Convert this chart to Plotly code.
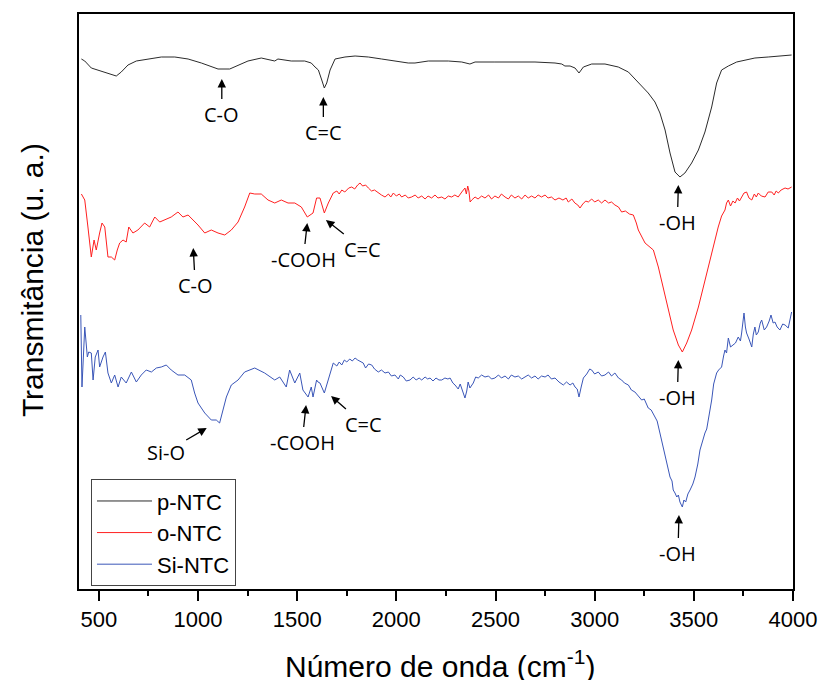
import plotly.graph_objects as go

# ---------------- data (wavenumber in cm-1, transmittance in arbitrary units, curves offset) -------------
p_ntc_x = [412, 429, 462, 512, 538, 588, 613, 647, 689, 748, 815, 883, 950, 1017, 1067, 1101, 1160,
           1202, 1252, 1319, 1387, 1403, 1470, 1538, 1571, 1590, 1607, 1624, 1637, 1649, 1666, 1691,
           1741, 1792, 1859, 1926, 1993, 2060, 2094, 2161, 2262, 2330, 2371, 2397, 2497, 2598, 2699,
           2800, 2834, 2850, 2876, 2901, 2921, 2943, 2985, 3052, 3119, 3170, 3220, 3270, 3304, 3329,
           3355, 3380, 3405, 3430, 3455, 3489, 3523, 3556, 3590, 3615, 3640, 3674, 3716, 3758, 3808,
           3875, 3943, 3993]
p_ntc_y = [530, 528, 521, 518, 516, 513, 517, 524, 528, 530, 532, 532, 530, 526, 522, 520, 520,
           524, 528, 531, 528, 530, 528, 528, 526, 522, 519, 509, 501, 506, 519, 530,
           532, 533, 532, 530, 528, 526, 526, 528, 528, 527, 525, 527, 527, 527, 527,
           526, 525, 523, 523, 521, 516, 522, 525, 525, 522, 517, 507, 496, 487, 476,
           459, 436, 417, 412, 416, 426, 439, 457, 482, 506, 519, 523, 527, 529, 531,
           532, 533, 534]

o_ntc_x = [412, 429, 445, 462, 476, 487, 504, 516, 530, 546, 563, 580, 593, 605, 622, 638, 651, 672,
           697, 731, 756, 782, 807, 832, 865, 899, 924, 950, 975, 1000, 1034, 1067, 1101, 1135, 1168,
           1202, 1235, 1261, 1286, 1319, 1353, 1387, 1420, 1454, 1488, 1521, 1551, 1580, 1598, 1615,
           1637, 1657, 1682, 1700, 1712, 1725, 1740, 1760, 1775, 1790, 1805, 1817, 1830, 1845, 1859,
           1875, 1890, 1909, 1925, 1943, 1960, 1972, 1985, 2000, 2015, 2027, 2045, 2060, 2077, 2095,
           2110, 2128, 2145, 2160, 2178, 2195, 2210, 2229, 2245, 2262, 2279, 2295, 2312, 2330, 2346,
           2353, 2360, 2366, 2372, 2380, 2397, 2412, 2430, 2447, 2465, 2480, 2497, 2515, 2530, 2548,
           2565, 2580, 2598, 2615, 2632, 2649, 2665, 2682, 2699, 2715, 2732, 2750, 2765, 2782, 2800,
           2820, 2840, 2856, 2867, 2885, 2900, 2915, 2926, 2940, 2955, 2968, 2985, 3000, 3018, 3035,
           3052, 3070, 3085, 3102, 3120, 3136, 3155, 3175, 3195, 3210, 3220, 3254, 3296, 3321, 3346,
           3371, 3396, 3422, 3442, 3464, 3489, 3523, 3556, 3590, 3623, 3640, 3657, 3665, 3674, 3685,
           3697, 3708, 3720, 3730, 3741, 3753, 3766, 3778, 3792, 3805, 3815, 3825, 3840, 3859, 3875,
           3893, 3905, 3915, 3926, 3940, 3960, 3975, 3993]
o_ntc_y = [395, 389, 362, 332, 349, 339, 356, 366, 362, 332, 332, 329, 339, 346, 349, 347, 362, 356,
           359, 366, 362, 372, 367, 369, 372, 377, 372, 374, 369, 364, 356, 359, 356, 354, 359,
           367, 382, 396, 395, 395, 389, 386, 389, 386, 386, 382, 372, 376, 391, 391,
           376, 386, 396, 398, 395, 399, 397, 401, 402, 400, 404, 406, 403, 404, 401,
           398, 399, 396, 394, 392, 395, 392, 396, 393, 395, 392, 394, 391, 392, 394,
           391, 393, 390, 393, 391, 394, 391, 392, 390, 393, 392, 394, 392, 397, 401,
           395, 403, 398, 387, 389, 392, 390, 393, 391, 394, 390, 393, 391, 395, 392,
           390, 394, 391, 393, 390, 394, 391, 393, 391, 394, 392, 394, 391, 392, 389,
           391, 389, 391, 387, 390, 386, 384, 381, 385, 388, 387, 390, 387, 389, 386,
           389, 386, 387, 384, 382, 377, 378, 375, 374, 366, 359, 346, 339, 322, 302,
           282, 259, 244, 237, 246, 259, 282, 309, 336, 362, 373, 379, 386, 389, 383,
           388, 386, 391, 388, 392, 396, 397, 391, 389, 395, 392, 396, 393, 392, 397,
           397, 394, 398, 396, 399, 401, 400, 402]

si_ntc_x = [409, 415, 429, 442, 449, 462, 471, 482, 496, 504, 521, 533, 546, 563, 580, 597, 613, 638,
            664, 689, 714, 739, 765, 790, 815, 840, 865, 899, 933, 966, 983, 1000, 1034, 1067, 1092,
            1109, 1126, 1143, 1168, 1202, 1235, 1286, 1336, 1387, 1412, 1445, 1462, 1488, 1513, 1529,
            1555, 1571, 1580, 1598, 1605, 1615, 1637, 1657, 1682, 1700, 1712, 1725, 1738, 1750, 1765,
            1778, 1792, 1805, 1820, 1833, 1845, 1860, 1876, 1890, 1909, 1925, 1943, 1960, 1975, 1993,
            2010, 2020, 2035, 2050, 2069, 2085, 2100, 2115, 2128, 2145, 2158, 2170, 2185, 2200, 2215,
            2229, 2245, 2260, 2271, 2285, 2296, 2312, 2322, 2330, 2340, 2346, 2355, 2362, 2371, 2380,
            2388, 2400, 2413, 2430, 2447, 2465, 2480, 2497, 2515, 2530, 2548, 2565, 2580, 2598, 2615,
            2632, 2649, 2665, 2682, 2699, 2715, 2732, 2750, 2765, 2782, 2800, 2820, 2842, 2858, 2876,
            2890, 2901, 2912, 2921, 2932, 2943, 2960, 2975, 2985, 3000, 3018, 3035, 3052, 3070, 3085,
            3102, 3120, 3136, 3150, 3170, 3185, 3203, 3220, 3237, 3250, 3270, 3285, 3304, 3315, 3329,
            3346, 3363, 3380, 3390, 3396, 3405, 3414, 3422, 3430, 3442, 3450, 3459, 3470, 3481, 3495,
            3506, 3520, 3531, 3545, 3556, 3565, 3573, 3590, 3600, 3615, 3625, 3640, 3650, 3657, 3665,
            3674, 3685, 3699, 3710, 3724, 3735, 3741, 3747, 3753, 3760, 3766, 3778, 3792, 3800, 3808,
            3815, 3825, 3835, 3842, 3855, 3867, 3880, 3889, 3900, 3909, 3920, 3934, 3948, 3960, 3976,
            3985, 3993]
si_ntc_y = [274, 202, 262, 232, 237, 236, 209, 232, 239, 222, 232, 237, 216, 206, 214, 202, 212, 206,
            217, 207, 214, 219, 217, 221, 222, 224, 219, 214, 214, 209, 196, 186, 176, 169, 169,
            166, 179, 192, 204, 209, 217, 221, 216, 209, 212, 202, 219, 206, 216, 199,
            192, 202, 192, 209, 207, 206, 196, 209, 226, 223, 227, 224, 229, 227, 230,
            228, 231, 229, 227, 226, 221, 225, 224, 220, 217, 219, 216, 217, 213, 214,
            210, 214, 212, 208, 209, 212, 209, 211, 209, 212, 210, 211, 208, 211, 209,
            209, 211, 210, 211, 206, 204, 200, 205, 201, 196, 191, 198, 207, 201, 204,
            206, 212, 211, 214, 212, 213, 210, 211, 214, 211, 213, 210, 214, 212, 213,
            210, 212, 214, 211, 213, 210, 213, 212, 214, 210, 211, 207, 204, 207, 204,
            206, 202, 200, 192, 202, 211, 215, 220, 219, 215, 217, 213, 214, 217, 213,
            216, 211, 209, 206, 204, 199, 197, 193, 189, 190, 181, 179, 172, 168, 156,
            142, 126, 112, 108, 99, 96, 92, 94, 87, 82, 89, 87, 95, 99, 105,
            112, 125, 139, 150, 156, 160, 169, 189, 205, 216, 219, 222, 233, 239, 236,
            251, 242, 244, 246, 252, 248, 256, 266, 276, 262, 256, 250, 242, 255, 262,
            254, 257, 266, 269, 259, 262, 268, 274, 266, 267, 262, 259, 265, 264, 261,
            268, 277]

series_names = ["p-NTC", "o-NTC", "Si-NTC"]
series_colors = ["#2b2b2b", "#ff2020", "#3a56b8"]

# band labels: (text, wavenumber, transmittance at arrow tip, label offset x px, label offset y px)
band_labels = [
    ("C-O", 1120, 510, 0, 35),
    ("C=C", 1632, 492, 0, 35),
    ("-OH", 3422, 404, -1, 37),
    ("C-O", 976, 341, 2, 37),
    ("-COOH", 1551, 366, -4, 36),
    ("C=C", 1645, 369, 37, 29),
    ("-OH", 3422, 229, -1, 37),
    ("Si-O", 1044, 161, -41, 24),
    ("-COOH", 1545, 184, -4, 37),
    ("C=C", 1671, 193, 32, 28),
    ("-OH", 3425, 74, -1, 38),
]

x_ticks = [500, 1000, 1500, 2000, 2500, 3000, 3500, 4000]

# ---------------- figure -------------
fig = go.Figure()
for name, xs, ys, col in zip(series_names, [p_ntc_x, o_ntc_x, si_ntc_x],
                             [p_ntc_y, o_ntc_y, si_ntc_y], series_colors):
    fig.add_trace(go.Scatter(x=xs, y=ys, mode="lines", name=name,
                             line=dict(color=col, width=1)))

annos = []
for text, wx, wy, ax, ay in band_labels:
    annos.append(dict(x=wx, y=wy, xref="x", yref="y", text=text, showarrow=True,
                      ax=ax, ay=ay, arrowhead=2, arrowsize=1.3, arrowwidth=1.3,
                      arrowcolor="black", standoff=0,
                      font=dict(family="Open Sans", size=20, color="black")))

annos.append(dict(x=-0.066, y=0.537, xref="paper", yref="paper", text="Transmitância (u. a.)",
                  textangle=-90, showarrow=False, xanchor="center", yanchor="middle",
                  font=dict(family="Arial, Liberation Sans", size=30, color="black")))
annos.append(dict(x=0.505, y=-0.1305, xref="paper", yref="paper",
                  text="Número de onda (cm<sup>-1</sup>)", height=32, valign="middle",
                  showarrow=False, xanchor="center", yanchor="middle",
                  font=dict(family="Arial, Liberation Sans", size=30, color="black")))

fig.update_layout(
    width=822, height=682, autosize=False,
    margin=dict(l=79, r=29, t=14, b=93, autoexpand=False),
    paper_bgcolor="white", plot_bgcolor="white",
    annotations=annos,
    showlegend=True,
    legend=dict(x=0.0168, y=0.191, xanchor="left", yanchor="top",
                bgcolor="white", bordercolor="#444444", borderwidth=1,
                font=dict(family="Arial, Liberation Sans", size=22, color="black"),
                itemwidth=55, tracegroupgap=0),
    xaxis=dict(range=[400, 4000], tickmode="array", tickvals=x_ticks, automargin=False,
               showline=True, linecolor="black", linewidth=2, mirror=True,
               ticks="outside", ticklen=10, tickwidth=2, tickcolor="black",
               minor=dict(dtick=250, tick0=0, ticks="outside", ticklen=5, tickwidth=2, tickcolor="black"),
               showgrid=False, zeroline=False,
               tickfont=dict(family="Arial, Liberation Sans", size=22, color="black")),
    yaxis=dict(range=[0, 575], showline=True, linecolor="black", linewidth=2, mirror=True,
               automargin=False,
               showticklabels=False, ticks="", showgrid=False, zeroline=False),
)

fig.write_html("out.html")
